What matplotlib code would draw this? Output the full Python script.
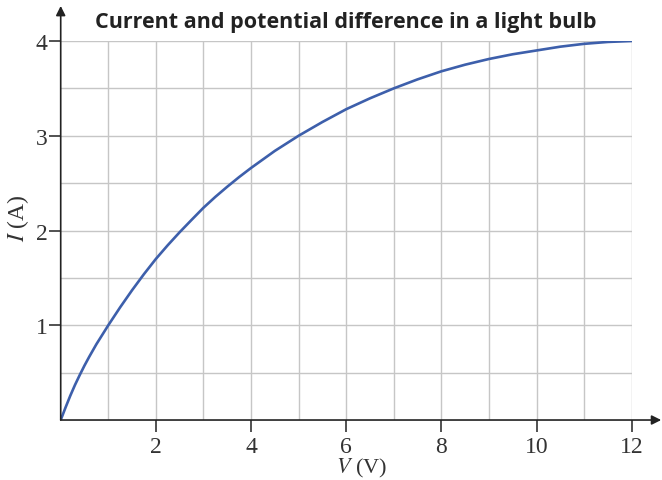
import matplotlib
matplotlib.use("Agg")
import matplotlib.pyplot as plt

plt.rcParams["mathtext.fontset"] = "stix"

# values
voltage = [0, 0.05, 0.1, 0.2, 0.3, 0.4, 0.5, 0.6, 0.75, 1, 1.25, 1.5, 1.75, 2,
           2.25, 2.5, 2.75, 3, 3.25, 3.5, 3.75, 4, 4.5, 5, 5.5, 6, 6.5, 7,
           7.5, 8, 8.5, 9, 9.5, 10, 10.5, 11, 11.5, 12]
current = [0, 0.065, 0.13, 0.255, 0.37, 0.475, 0.575, 0.668, 0.80, 1.0, 1.19,
           1.37, 1.54, 1.70, 1.845, 1.982, 2.112, 2.24, 2.355, 2.462, 2.564,
           2.66, 2.84, 3.0, 3.145, 3.28, 3.395, 3.50, 3.595, 3.68, 3.75, 3.81,
           3.86, 3.90, 3.94, 3.97, 3.99, 4.0]
x_ticks = [2, 4, 6, 8, 10, 12]
y_ticks = [1, 2, 3, 4]

serif = "Liberation Serif"

fig = plt.figure(figsize=(6.62, 4.81), dpi=100)
ax = fig.add_axes([0.0917, 0.1247, 0.8625, 0.788])
ax.set_xlim(0, 12)
ax.set_ylim(0, 4)

# grid
for gx in range(1, 13):
    ax.axvline(gx, color="#c6c6c6", lw=1.0, zorder=1)
for k in range(1, 9):
    ax.axhline(k * 0.5, color="#c6c6c6", lw=1.0, zorder=1)

ax.plot(voltage, current, color="#3d5fab", lw=1.9, zorder=3,
        solid_joinstyle="round")

for s in ax.spines.values():
    s.set_visible(False)

# axes with arrow heads
ax.annotate("", xy=(12.62, 0), xytext=(0, 0), annotation_clip=False,
            arrowprops=dict(arrowstyle="-|>", color="#222222", lw=1.2,
                            mutation_scale=14, shrinkA=0, shrinkB=0), zorder=4)
ax.annotate("", xy=(0, 4.37), xytext=(0, 0), annotation_clip=False,
            arrowprops=dict(arrowstyle="-|>", color="#222222", lw=1.2,
                            mutation_scale=14, shrinkA=0, shrinkB=0), zorder=4)

ax.set_xticks(x_ticks)
ax.set_yticks(y_ticks)
ax.set_xticklabels([str(t) for t in x_ticks], fontfamily=serif, fontsize=17, color="#333333")
ax.set_yticklabels([str(t) for t in y_ticks], fontfamily=serif, fontsize=17, color="#333333")
ax.tick_params(axis="x", length=8.5, width=1.1, color="#222222", pad=3)
ax.tick_params(axis="y", length=8.5, width=1.1, color="#222222", pad=1)

ax.set_xlabel(r"$V$ (V)", fontfamily=serif, fontsize=16, color="#333333",
              va="baseline")
ax.xaxis.set_label_coords(0.527, -0.138)
ax.set_ylabel(r"$I$ (A)", fontfamily=serif, fontsize=17, color="#333333")
ax.yaxis.set_label_coords(-0.052, 0.536)

ax.set_title("Current and potential difference in a light bulb",
             fontfamily="Open Sans", fontweight="bold", fontsize=15.5,
             color="#222222", pad=10)

fig.savefig("out.png", dpi=100)
